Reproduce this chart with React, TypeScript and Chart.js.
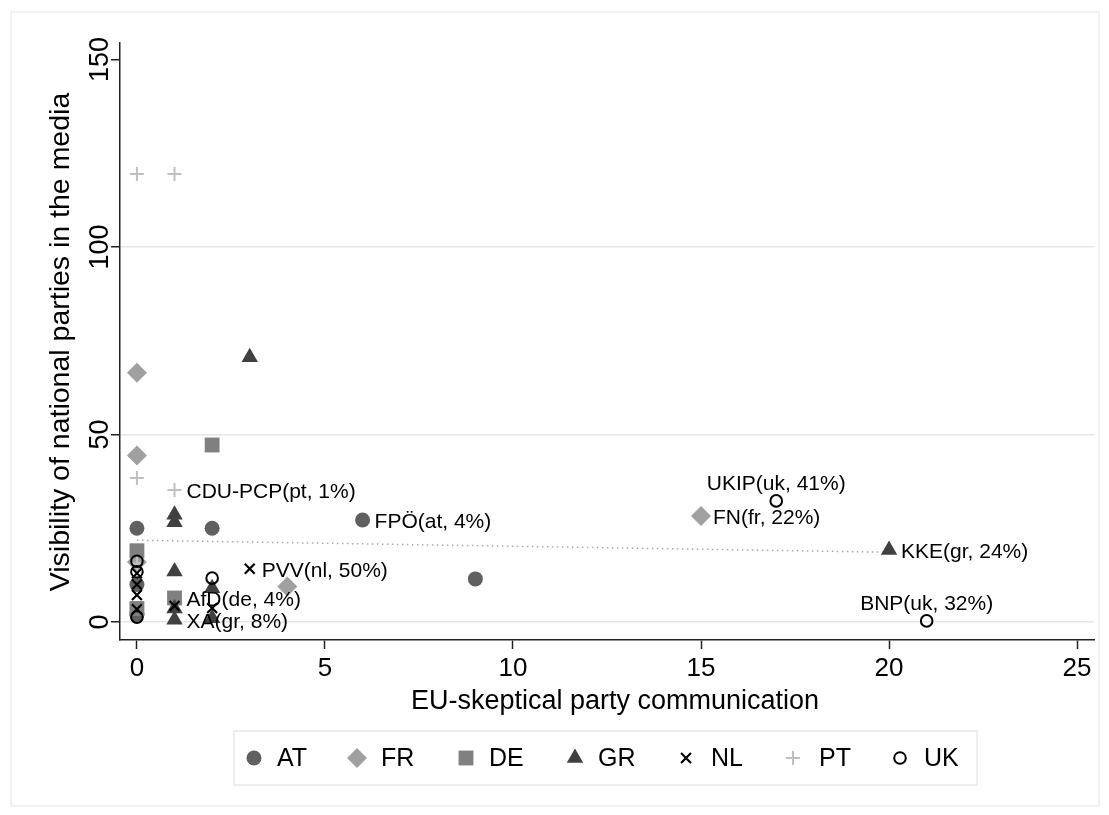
import React, { useEffect, useRef } from 'react';
import { Chart, registerables, PointElement } from 'chart.js';

Chart.register(...registerables);

const W = 1109;
const H = 815;
const FONT = '"Liberation Sans", Arial, Helvetica, sans-serif';

// ---- data ----
const xTicks = [0, 5, 10, 15, 20, 25];
const yTicks = [0, 50, 100, 150];
const xTitle = 'EU-skeptical party communication';
const yTitle = 'Visibility of national parties in the media';

const countries = ['AT', 'FR', 'DE', 'GR', 'NL', 'PT', 'UK'];

const atPoints = [[0, 25], [2, 25], [6, 27.2], [9, 11.5], [0, 10], [0, 2]];
const frPoints = [[0, 66.5], [0, 44.4], [15, 28.3], [4, 9.5], [0, 16]];
const dePoints = [[2, 47.2], [0, 19], [1, 6.4], [0, 3.6]];
const grPoints = [[3, 70.6], [1, 28.6], [1, 26.6], [1, 13.5], [2, 9], [1, 3.6], [1, 0.6], [2, 1], [20, 19.2]];
const nlPoints = [[3, 14.2], [1, 4.3], [2, 3.7], [0, 13], [0, 10], [0, 7.2], [0, 3.4]];
const ptPoints = [[0, 119.5], [1, 119.5], [0, 38.4], [1, 35.2], [0, 15.6]];
const ukPoints = [[17, 32.3], [21, 0.3], [2, 11.7], [0, 16.2], [0, 13.4], [0, 1.3]];

const fitLine = [[0, 21.8], [20, 18.6]];

const partyLabels = ['CDU-PCP(pt, 1%)', 'FPÖ(at, 4%)', 'PVV(nl, 50%)', 'AfD(de, 4%)', 'XA(gr, 8%)', 'UKIP(uk, 41%)', 'FN(fr, 22%)', 'KKE(gr, 24%)', 'BNP(uk, 32%)'];
const partyX = [1, 6, 3, 1, 1, 17, 15, 20, 21];
const partyY = [35.2, 27.2, 14.2, 6.4, 0.6, 32.3, 28.3, 19.2, 0.3];
const partyPos = ['right', 'right', 'right', 'right', 'right', 'top', 'right', 'right', 'top'];

// ---- styles ----
const styles = [
  { pointStyle: 'circle', radius: 7.5, backgroundColor: '#606060', borderColor: '#606060', borderWidth: 0 },
  { pointStyle: 'rectRot', radius: 10, backgroundColor: '#a0a0a0', borderColor: '#a0a0a0', borderWidth: 0 },
  { pointStyle: 'rect', radius: 10.5, backgroundColor: '#808080', borderColor: '#808080', borderWidth: 0 },
  { pointStyle: 'triangle', radius: 9.5, backgroundColor: '#404040', borderColor: '#404040', borderWidth: 0 },
  { pointStyle: 'crossRot', radius: 7, backgroundColor: '#000', borderColor: '#000', borderWidth: 2.2 },
  { pointStyle: 'cross', radius: 7, backgroundColor: '#c0c0c0', borderColor: '#c0c0c0', borderWidth: 2 },
  { pointStyle: 'circle', radius: 5.8, backgroundColor: 'rgba(0,0,0,0)', borderColor: '#000', borderWidth: 2 },
];
const allPoints = [atPoints, frPoints, dePoints, grPoints, nlPoints, ptPoints, ukPoints];

const legendMarkerX = [254, 357, 466, 575, 686, 793, 900];
const legendTextX = [277, 381, 489, 598, 711, 819, 924];

const decor = {
  id: 'decor',
  beforeDraw(chart: any) {
    const ctx = chart.ctx;
    ctx.save();
    ctx.fillStyle = '#fff';
    ctx.fillRect(0, 0, W, H);
    ctx.strokeStyle = '#ededed';
    ctx.lineWidth = 1.5;
    ctx.strokeRect(11, 12, 1088, 794);
    ctx.restore();
  },
  afterDatasetsDraw(chart: any) {
    const ctx = chart.ctx;
    const xs = chart.scales.x;
    const ys = chart.scales.y;
    ctx.save();
    ctx.fillStyle = '#000';
    ctx.font = `21px ${FONT}`;
    partyLabels.forEach((t, i) => {
      const px = xs.getPixelForValue(partyX[i]);
      const py = ys.getPixelForValue(partyY[i]);
      if (partyPos[i] === 'top') {
        ctx.textAlign = 'center';
        ctx.textBaseline = 'middle';
        ctx.fillText(t, px, py - 17);
      } else {
        ctx.textAlign = 'left';
        ctx.textBaseline = 'middle';
        ctx.fillText(t, px + 12, py + 2);
      }
    });
    ctx.restore();
  },
  afterDraw(chart: any) {
    const ctx = chart.ctx;
    const xs = chart.scales.x;
    const ys = chart.scales.y;
    ctx.save();
    ctx.fillStyle = '#000';
    // x tick labels
    ctx.font = `26px ${FONT}`;
    ctx.textAlign = 'center';
    ctx.textBaseline = 'middle';
    xTicks.forEach(v => ctx.fillText(String(v), xs.getPixelForValue(v), 669));
    // y tick labels rotated
    ctx.font = `27px ${FONT}`;
    yTicks.forEach(v => {
      ctx.save();
      ctx.translate(101, ys.getPixelForValue(v));
      ctx.rotate(-Math.PI / 2);
      ctx.fillText(String(v), 0, 0);
      ctx.restore();
    });
    // titles
    ctx.font = `27px ${FONT}`;
    ctx.fillText(xTitle, 615, 702);
    ctx.save();
    ctx.font = `28.5px ${FONT}`;
    ctx.translate(61, 342);
    ctx.rotate(-Math.PI / 2);
    ctx.fillText(yTitle, 0, 0);
    ctx.restore();
    // legend
    ctx.strokeStyle = '#e8e8e8';
    ctx.lineWidth = 1.5;
    ctx.strokeRect(234, 731, 743, 54);
    const area = { left: 0, top: 0, right: W, bottom: H };
    ctx.font = `25px ${FONT}`;
    ctx.textAlign = 'left';
    countries.forEach((c, i) => {
      const pe: any = new PointElement({});
      pe.x = legendMarkerX[i];
      pe.y = 758;
      pe.options = { ...styles[i], rotation: 0 };
      pe.draw(ctx, area);
      ctx.fillStyle = '#000';
      ctx.fillText(c, legendTextX[i], 759);
    });
    ctx.restore();
  },
};

export default function App() {
  const ref = useRef<HTMLCanvasElement>(null);
  useEffect(() => {
    if (!ref.current) return;
    const datasets: any[] = countries.map((c, i) => ({
      label: c,
      data: allPoints[i].map(p => ({ x: p[0], y: p[1] })),
      pointStyle: styles[i].pointStyle,
      pointRadius: styles[i].radius,
      pointBackgroundColor: styles[i].backgroundColor,
      pointBorderColor: styles[i].borderColor,
      pointBorderWidth: styles[i].borderWidth,
      order: 7 - i,
      clip: false,
    }));
    datasets.push({
      label: 'fit',
      data: fitLine.map(p => ({ x: p[0], y: p[1] })),
      showLine: true,
      pointRadius: 0,
      borderColor: '#a8a8a8',
      borderWidth: 1.5,
      borderDash: [1.5, 3.5],
      order: 10,
    });
    const chart = new Chart(ref.current, {
      type: 'scatter',
      data: { datasets },
      options: {
        animation: false,
        responsive: false,
        maintainAspectRatio: false,
        events: [],
        layout: { padding: { left: 120, top: 43, right: 15, bottom: 175 } },
        scales: {
          x: {
            type: 'linear',
            min: -0.45,
            max: 25.45,
            afterFit: (s: any) => { s.height = 0; },
            afterBuildTicks: (s: any) => { s.ticks = xTicks.map(v => ({ value: v })); },
            ticks: { display: false },
            grid: { drawOnChartArea: false, drawTicks: true, tickLength: 9, tickColor: '#222', tickWidth: 1.5, color: '#222' },
            border: { display: true, color: '#222', width: 1.5 },
          },
          y: {
            type: 'linear',
            min: -4.8,
            max: 154.4,
            afterFit: (s: any) => { s.width = 0; },
            afterBuildTicks: (s: any) => { s.ticks = yTicks.map(v => ({ value: v })); },
            ticks: { display: false },
            grid: {
              color: (c: any) => (c.tick && c.tick.value === 150 ? 'rgba(0,0,0,0)' : '#e6e6e6'),
              lineWidth: 1.5,
              drawTicks: true,
              tickLength: 9,
              tickColor: '#222',
              tickWidth: 1.5,
            },
            border: { display: true, color: '#222', width: 1.5 },
          },
        },
        plugins: { legend: { display: false }, tooltip: { enabled: false } },
      } as any,
      plugins: [decor],
    });
    return () => chart.destroy();
  }, []);
  return (
    <div style={{ position: 'absolute', left: 0, top: 0, width: W, height: H, background: '#fff' }}>
      <canvas ref={ref} width={W} height={H} style={{ display: 'block', width: W, height: H }} />
    </div>
  );
}
